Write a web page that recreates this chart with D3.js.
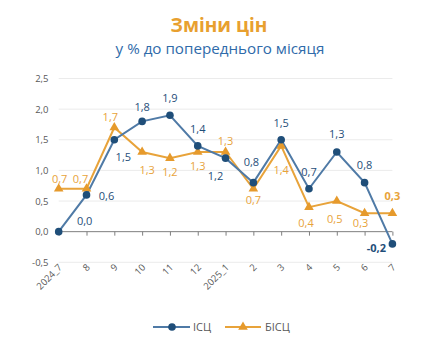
<!DOCTYPE html>
<html><head><meta charset="utf-8">
<script src="https://cdn.jsdelivr.net/npm/d3@7"></script>
<style>body{margin:0;background:#fff;}svg{display:block;font-family:"Open Sans",sans-serif;}</style>
</head><body>
<svg id="c" width="437" height="347"></svg>
<script>
const categories = ["2024_7","8","9","10","11","12","2025_1","2","3","4","5","6","7"];
const isc  = [0.0, 0.6, 1.5, 1.8, 1.9, 1.4, 1.2, 0.8, 1.5, 0.7, 1.3, 0.8, -0.2];
const bisc = [0.7, 0.7, 1.7, 1.3, 1.2, 1.3, 1.3, 0.7, 1.4, 0.4, 0.5, 0.3, 0.3];
const yTicks = [-0.5, 0.0, 0.5, 1.0, 1.5, 2.0, 2.5];
const seriesNames = ["ІСЦ", "БІСЦ"];
const title = "Зміни цін";
const subtitle = "у % до попереднього місяця";

// label placement offsets (layout, not data)
const iscLabelOff  = [[26,-11],[20,1],[9,17],[0,-14],[0,-17],[0,-17],[-10,18],[-2,-21],[0,-17],[0,-17],[0,-18],[0,-18],[-16,4]];
const biscLabelOff = [[1,-10],[-6,-10],[-4,-10],[5,18],[0,14],[0,14],[0,-11],[0,11],[0,24],[-3,16],[-2,18],[-4,10],[0,-17]];

const svg = d3.select("#c");
const x = d3.scalePoint().domain(categories).range([58.7, 392.4]).padding(0);
const y = d3.scaleLinear().domain([-0.5, 2.5]).range([262.3, 78.5]);
const fmt = v => d3.format(".1f")(v).replace(".", ",").replace("−","-");

svg.append("text").attr("x",219).attr("y",31.5).attr("text-anchor","middle")
  .attr("font-size",19).attr("font-weight","bold").attr("fill","#E8A02F").text(title);
svg.append("text").attr("x",220).attr("y",54).attr("text-anchor","middle")
  .attr("font-size",15.2).attr("fill","#2F6BAA").text(subtitle);

// grid
svg.append("g").selectAll("line").data(yTicks.filter(d=>d!==0)).join("line")
  .attr("x1",x.range()[0]).attr("x2",x.range()[1])
  .attr("y1",d=>y(d)).attr("y2",d=>y(d)).attr("stroke","#EBEBEB").attr("stroke-width",1);

// y axis labels
const yAxis = d3.axisLeft(y).tickValues(yTicks).tickSize(0).tickPadding(0).tickFormat(fmt);
const ga = svg.append("g").attr("transform","translate(48.5,0)").call(yAxis);
ga.select(".domain").remove();
ga.selectAll("text").attr("font-size",9.5).attr("fill","#595959").attr("font-family","Open Sans");

// x axis at zero
const xAxis = d3.axisBottom(x).tickSize(4).tickFormat("");
const gx = svg.append("g").attr("transform",`translate(0,${y(0)})`).call(xAxis);
gx.select(".domain").attr("stroke","#7F7F7F").attr("d",`M${x.range()[0]},0H${x.range()[1]}`);
gx.selectAll(".tick line").attr("stroke","#7F7F7F");

// x labels rotated
svg.append("g").selectAll("text").data(categories).join("text")
  .attr("transform",d=>`translate(${x(d)+4},268) rotate(-45)`)
  .attr("text-anchor","end").attr("font-size",9.5).attr("fill","#595959").text(d=>d);

const line = d3.line().x((d,i)=>x(categories[i])).y(d=>y(d));
const blueLine="#4F7AA6", blueMark="#1F4E79", orLine="#E8A33A", orMark="#E69A2C";

svg.append("path").datum(bisc).attr("d",line).attr("fill","none").attr("stroke",orLine).attr("stroke-width",2);
svg.append("path").datum(isc).attr("d",line).attr("fill","none").attr("stroke",blueLine).attr("stroke-width",2);

const tri = d3.symbol().type(d3.symbolTriangle).size(40);
svg.append("g").selectAll("path").data(bisc).join("path")
  .attr("d",tri).attr("transform",(d,i)=>`translate(${x(categories[i])},${y(d)})`).attr("fill",orMark);
svg.append("g").selectAll("circle").data(isc).join("circle")
  .attr("cx",(d,i)=>x(categories[i])).attr("cy",d=>y(d)).attr("r",3.8).attr("fill",blueMark);

// labels
const last = categories.length-1;
svg.append("g").selectAll("text").data(isc).join("text")
  .attr("x",(d,i)=>x(categories[i])+iscLabelOff[i][0])
  .attr("y",(d,i)=>y(d)+iscLabelOff[i][1]).attr("dy","0.35em")
  .attr("text-anchor","middle").attr("font-size",11)
  .attr("font-weight",(d,i)=>i===last?"bold":"normal")
  .attr("fill",blueMark).text(fmt);
svg.append("g").selectAll("text").data(bisc).join("text")
  .attr("x",(d,i)=>x(categories[i])+biscLabelOff[i][0])
  .attr("y",(d,i)=>y(d)+biscLabelOff[i][1]).attr("dy","0.35em")
  .attr("text-anchor","middle").attr("font-size",11)
  .attr("font-weight",(d,i)=>i===last?"bold":"normal")
  .attr("fill",orLine).text(fmt);

// legend
const lg = svg.append("g").attr("transform","translate(0,327)");
lg.append("line").attr("x1",153).attr("x2",190).attr("stroke",blueLine).attr("stroke-width",2);
lg.append("circle").attr("cx",172).attr("r",3.8).attr("fill",blueMark);
lg.append("text").attr("x",193).attr("dy","0.35em").attr("font-size",11).attr("fill","#595959").text(seriesNames[0]);
lg.append("line").attr("x1",225).attr("x2",261).attr("stroke",orLine).attr("stroke-width",2);
lg.append("path").attr("d",tri).attr("transform","translate(243,0)").attr("fill",orMark);
lg.append("text").attr("x",265).attr("dy","0.35em").attr("font-size",11).attr("fill","#595959").text(seriesNames[1]);
</script>
</body></html>
